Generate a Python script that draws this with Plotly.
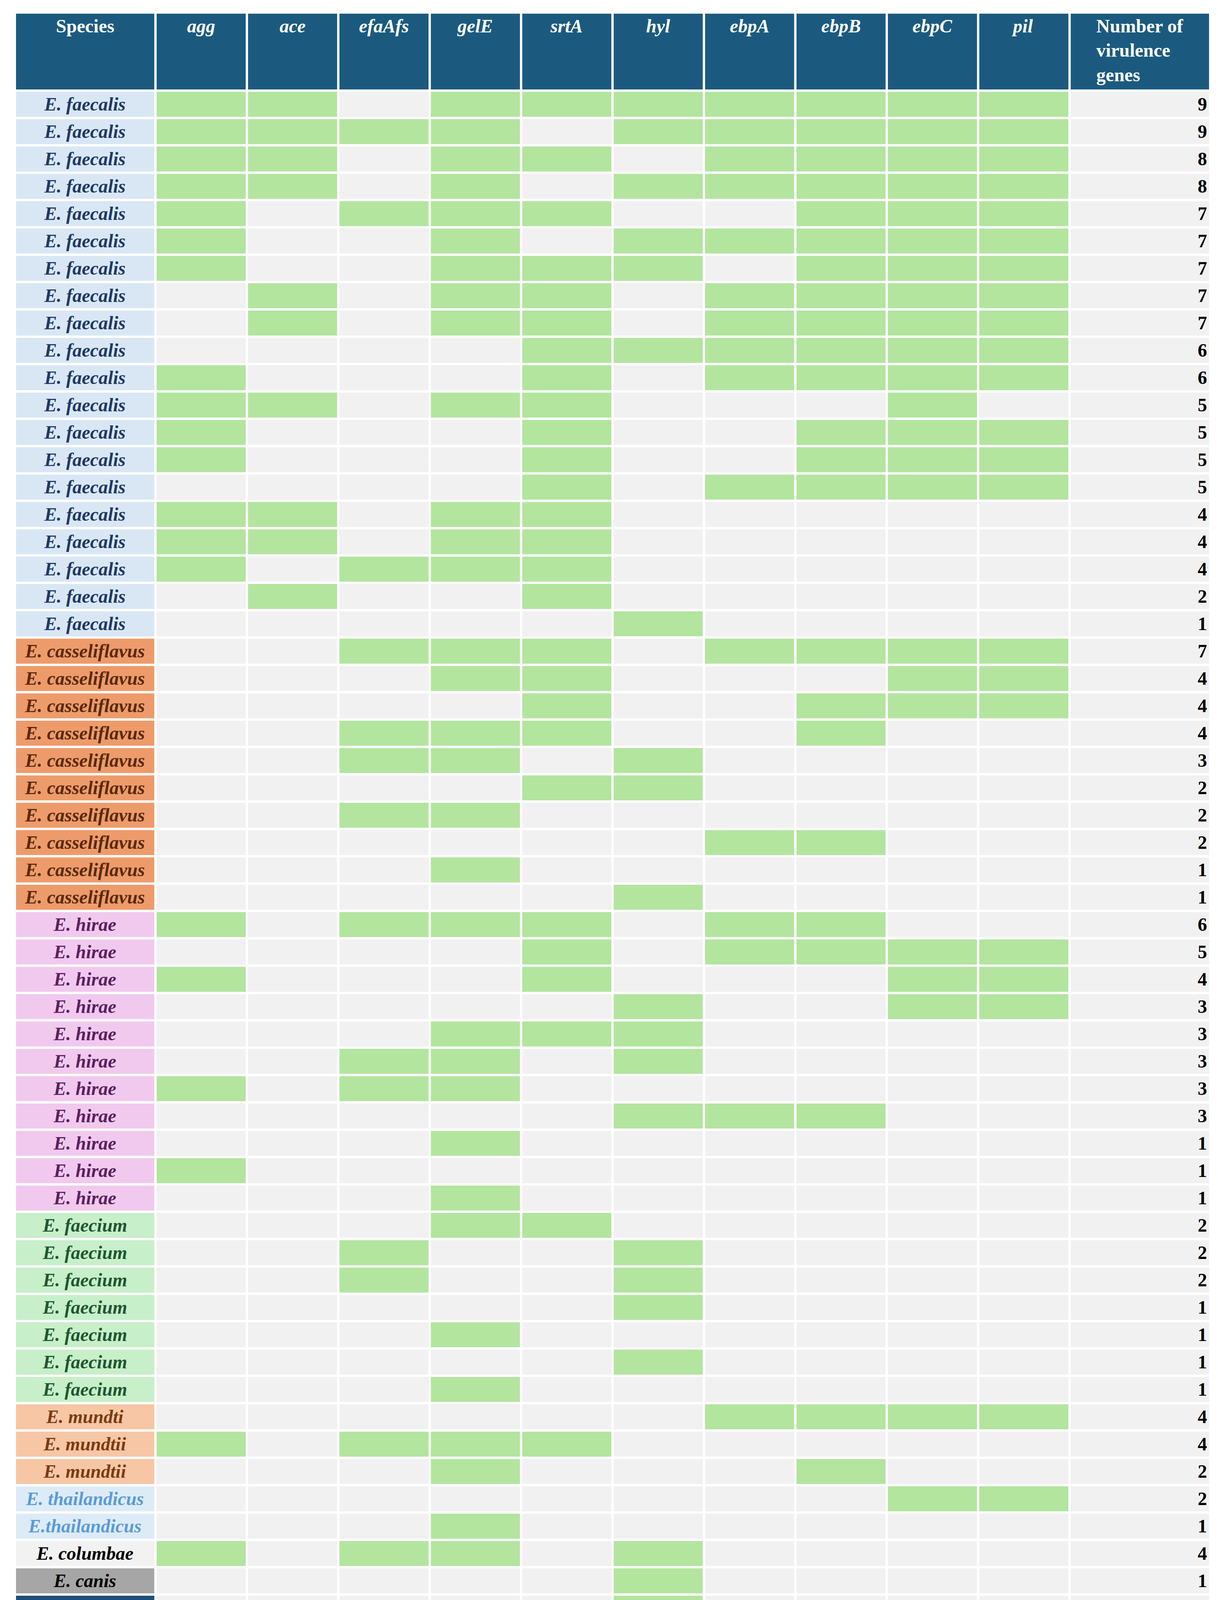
import plotly.graph_objects as go

genes = ["agg", "ace", "efaAfs", "gelE", "srtA", "hyl", "ebpA", "ebpB", "ebpC", "pil"]

species = (["E. faecalis"] * 20 + ["E. casseliflavus"] * 10 + ["E. hirae"] * 11 +
           ["E. faecium"] * 7 + ["E. mundti", "E. mundtii", "E. mundtii",
           "E. thailandicus", "E.thailandicus", "E. columbae", "E. canis", "E. aquimarinus"])

# presence (1) / absence (0) per isolate, columns in the order of `genes`
presence = [
    [1, 1, 0, 1, 1, 1, 1, 1, 1, 1],
    [1, 1, 1, 1, 0, 1, 1, 1, 1, 1],
    [1, 1, 0, 1, 1, 0, 1, 1, 1, 1],
    [1, 1, 0, 1, 0, 1, 1, 1, 1, 1],
    [1, 0, 1, 1, 1, 0, 0, 1, 1, 1],
    [1, 0, 0, 1, 0, 1, 1, 1, 1, 1],
    [1, 0, 0, 1, 1, 1, 0, 1, 1, 1],
    [0, 1, 0, 1, 1, 0, 1, 1, 1, 1],
    [0, 1, 0, 1, 1, 0, 1, 1, 1, 1],
    [0, 0, 0, 0, 1, 1, 1, 1, 1, 1],
    [1, 0, 0, 0, 1, 0, 1, 1, 1, 1],
    [1, 1, 0, 1, 1, 0, 0, 0, 1, 0],
    [1, 0, 0, 0, 1, 0, 0, 1, 1, 1],
    [1, 0, 0, 0, 1, 0, 0, 1, 1, 1],
    [0, 0, 0, 0, 1, 0, 1, 1, 1, 1],
    [1, 1, 0, 1, 1, 0, 0, 0, 0, 0],
    [1, 1, 0, 1, 1, 0, 0, 0, 0, 0],
    [1, 0, 1, 1, 1, 0, 0, 0, 0, 0],
    [0, 1, 0, 0, 1, 0, 0, 0, 0, 0],
    [0, 0, 0, 0, 0, 1, 0, 0, 0, 0],
    # casseliflavus
    [0, 0, 1, 1, 1, 0, 1, 1, 1, 1],
    [0, 0, 0, 1, 1, 0, 0, 0, 1, 1],
    [0, 0, 0, 0, 1, 0, 0, 1, 1, 1],
    [0, 0, 1, 1, 1, 0, 0, 1, 0, 0],
    [0, 0, 1, 1, 0, 1, 0, 0, 0, 0],
    [0, 0, 0, 0, 1, 1, 0, 0, 0, 0],
    [0, 0, 1, 1, 0, 0, 0, 0, 0, 0],
    [0, 0, 0, 0, 0, 0, 1, 1, 0, 0],
    [0, 0, 0, 1, 0, 0, 0, 0, 0, 0],
    [0, 0, 0, 0, 0, 1, 0, 0, 0, 0],
    # hirae
    [1, 0, 1, 1, 1, 0, 1, 1, 0, 0],
    [0, 0, 0, 0, 1, 0, 1, 1, 1, 1],
    [1, 0, 0, 0, 1, 0, 0, 0, 1, 1],
    [0, 0, 0, 0, 0, 1, 0, 0, 1, 1],
    [0, 0, 0, 1, 1, 1, 0, 0, 0, 0],
    [0, 0, 1, 1, 0, 1, 0, 0, 0, 0],
    [1, 0, 1, 1, 0, 0, 0, 0, 0, 0],
    [0, 0, 0, 0, 0, 1, 1, 1, 0, 0],
    [0, 0, 0, 1, 0, 0, 0, 0, 0, 0],
    [1, 0, 0, 0, 0, 0, 0, 0, 0, 0],
    [0, 0, 0, 1, 0, 0, 0, 0, 0, 0],
    # faecium
    [0, 0, 0, 1, 1, 0, 0, 0, 0, 0],
    [0, 0, 1, 0, 0, 1, 0, 0, 0, 0],
    [0, 0, 1, 0, 0, 1, 0, 0, 0, 0],
    [0, 0, 0, 0, 0, 1, 0, 0, 0, 0],
    [0, 0, 0, 1, 0, 0, 0, 0, 0, 0],
    [0, 0, 0, 0, 0, 1, 0, 0, 0, 0],
    [0, 0, 0, 1, 0, 0, 0, 0, 0, 0],
    # mundtii, thailandicus, columbae, canis, aquimarinus
    [0, 0, 0, 0, 0, 0, 1, 1, 1, 1],
    [1, 0, 1, 1, 1, 0, 0, 0, 0, 0],
    [0, 0, 0, 1, 0, 0, 0, 1, 0, 0],
    [0, 0, 0, 0, 0, 0, 0, 0, 1, 1],
    [0, 0, 0, 1, 0, 0, 0, 0, 0, 0],
    [1, 0, 1, 1, 0, 1, 0, 0, 0, 0],
    [0, 0, 0, 0, 0, 1, 0, 0, 0, 0],
    [0, 0, 0, 0, 0, 1, 0, 0, 0, 0],
]

# fill / text colour per species label
species_style = {
    "E. faecalis": ("#d9e7f5", "#1f3864"),
    "E. casseliflavus": ("#ee9b6b", "#5a2a0a"),
    "E. hirae": ("#f1c9ee", "#5b1f5e"),
    "E. faecium": ("#c7efc9", "#1e5631"),
    "E. mundti": ("#f7c6a5", "#7a3b10"),
    "E. mundtii": ("#f7c6a5", "#7a3b10"),
    "E. thailandicus": ("#ddebf7", "#5b9bd5"),
    "E.thailandicus": ("#ddebf7", "#5b9bd5"),
    "E. columbae": ("#f2f2f2", "#000000"),
    "E. canis": ("#a6a6a6", "#000000"),
    "E. aquimarinus": ("#1f4e79", "#ffffff"),
}

GREEN = "#b3e59f"
GREY = "#f1f1f1"
HEADER = "#1b5a7e"
FONT = "Liberation Serif"

counts = [sum(r) for r in presence]

values = [["<i><b>%s</b></i>" % s for s in species]]
fills = [[species_style[s][0] for s in species]]
fcolors = [[species_style[s][1] for s in species]]
for j in range(len(genes)):
    values.append([""] * len(species))
    fills.append([GREEN if r[j] else GREY for r in presence])
    fcolors.append(["#000000"] * len(species))
values.append(["<b>%d</b>" % c for c in counts])
fills.append([GREY] * len(species))
fcolors.append(["#000000"] * len(species))

header = ["<br><b>Species</b>"] + ["<br><b><i>%s</i></b>" % g for g in genes] + \
         ["<b>Number of<br>virulence<br>genes</b>"]

W, H = 3118, 4699
fig = go.Figure(go.Table(
    columnwidth=[360] + [234] * 10 + [360],
    domain=dict(x=[30 / W, 3090 / W], y=[1 - 4345 / H, 1 - 24 / H]),
    header=dict(values=header, fill_color=HEADER, line=dict(color="white", width=6),
                font=dict(family=FONT, size=48, color="white"), align="center", height=200),
    cells=dict(values=values, fill_color=fills, line=dict(color="white", width=6),
               font=dict(family=FONT, size=48, color=fcolors),
               align=["center"] * 11 + ["right"], height=70),
))

def px(x, y):
    return x / W, 1 - y / H

# legend boxes and footnote frame
shapes = []
for (x0, y0, x1, y1, col) in [(165, 4380, 290, 4482, GREEN), (290, 4380, 558, 4482, "white"),
                              (165, 4536, 295, 4638, "#e6e6e6"), (295, 4536, 558, 4638, "white"),
                              (625, 4375, 3090, 4632, "white")]:
    a, b = px(x0, y0)
    c, d = px(x1, y1)
    shapes.append(dict(type="rect", xref="paper", yref="paper", x0=a, y0=b, x1=c, y1=d,
                       fillcolor=col, line=dict(color="#bfbfbf", width=3)))

annotations = [
    dict(text="presence", x=410 / W, y=1 - 4428 / H),
    dict(text="absence", x=410 / W, y=1 - 4586 / H),
    dict(text="<i>agg</i> - aggregation substance; <i>ace</i> - adhesion to collagen; "
              "<i>efaAfs</i> - endocarditis-associated antigen; <i>gelE</i> - gelatinase;<br>"
              "<i>hyl</i> - hyaluronidase; <i>srtA</i> - sortase A; <i>ebpA, ebpB, ebpC</i> - "
              "endocarditis and biofilm-associated pili; <i>pil</i> -pilin",
         x=655 / W, y=1 - 4503 / H, xanchor="left", align="left"),
]
for a in annotations:
    a.update(xref="paper", yref="paper", showarrow=False, font=dict(family=FONT, size=42, color="#222"))
    a.setdefault("xanchor", "center")

fig.update_layout(width=W, height=H, margin=dict(l=0, r=0, t=0, b=0), paper_bgcolor="white",
                  shapes=shapes, annotations=annotations)
fig.write_html("out.html")
